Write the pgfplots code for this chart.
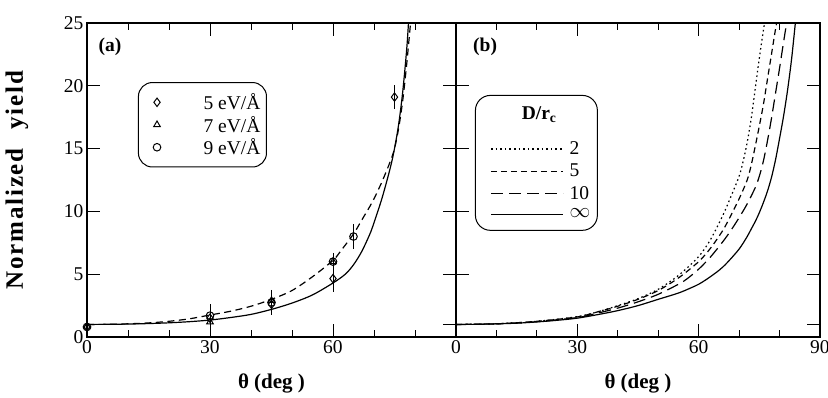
\documentclass[border=0pt]{standalone}
\usepackage{fontspec}
\setmainfont{Liberation Serif}
\newfontfamily\spacedfont[LetterSpace=7]{Liberation Serif}
\usepackage{pgfplots}
\pgfplotsset{compat=1.18}

\newcommand{\lbl}{\fontsize{19.5}{22}\selectfont}

\pgfplotsset{
  panel/.style={
    scale only axis, height=314pt,
    xmin=0, xmax=90, ymin=0, ymax=25,
    xtick={0,30,60,90}, minor x tick num=2,
    ytick={0,5,10,15,20,25},
    extra y ticks={1}, extra y tick labels={},
    extra y tick style={major tick length=13pt},
    tick align=inside,
    major tick length=13pt, minor tick length=7pt,
    every tick/.style={black, line width=0.9pt},
    axis line style={line width=1.1pt},
    tick label style={font=\lbl},
    /pgf/number format/assume math mode=true,
    xlabel={\textbf{θ (deg )}},
    x label style={at={(axis description cs:0.5,0)}, anchor=center,
                   yshift=-46pt, font=\fontsize{21}{24}\selectfont},
    every axis plot/.append style={black, line width=1.2pt},
  },
  % marker-only legend picture: the mark sits 14pt into a 58pt wide cell
  markkey/.style={legend image code/.code={%
    \path (0pt,0pt) (58pt,0pt);
    \draw[mark repeat=2,mark phase=2,##1]
      plot coordinates {(0pt,0pt)(14pt,0pt)(28pt,0pt)};}},
}

\begin{document}
\begin{tikzpicture}
\useasboundingbox (0,0) rectangle (828pt,397pt);

% ---------------- panel (a): measured yields and model curves
\begin{axis}[panel,
  at={(87pt,60pt)}, anchor=south west, width=369pt,
  xticklabels={0,30,60,{}},
  ylabel={\spacedfont\bfseries Normalized\hspace{19pt}yield},
  y label style={at={(axis description cs:-0.19,0.5)}, anchor=center,
                 font=\fontsize{25}{28}\selectfont},
  legend style={at={(0.138,0.812)}, anchor=north west, draw=black,
    line width=1pt, rounded corners=14pt, font=\lbl,
    inner xsep=4pt, inner ysep=11pt, row sep=5pt,
    nodes={inner ysep=0pt}, cells={anchor=east}},
  error bars/error bar style={line width=0.9pt},
  error bars/error mark options={mark size=5pt, line width=0.9pt},
]
\node[font=\bfseries\lbl] at (rel axis cs:0.062,0.924) {(a)};

\addplot[smooth, solid, forget plot] coordinates {
  (0,1.0)(5,1.01)(10,1.03)(15,1.07)(20,1.13)(25,1.22)(30,1.35)(35,1.55)
  (40,1.8)(45,2.2)(50,2.7)(55,3.35)(60,4.3)(63,5.0)(65,5.75)(67,6.8)
  (69,8.2)(70,9.1)(72,11.1)(74,13.5)(75,15.0)(76,16.9)(77,19.5)
  (78,23.0)(78.5,25.5)};
\addplot[smooth, dash pattern=on 7pt off 4.5pt, forget plot] coordinates {
  (0,1.0)(5,1.01)(10,1.05)(15,1.12)(20,1.25)(25,1.45)(30,1.75)(35,2.05)
  (40,2.45)(45,3.0)(50,3.7)(55,4.8)(60,6.1)(62,6.9)(65,8.2)(67,9.3)
  (69,10.4)(70,11.0)(72,12.4)(74,14.0)(75,15.0)(76,16.6)(77,18.8)
  (78,21.8)(79,25.3)};

% 5 eV/A
\addplot[only marks, markkey, mark=diamond, mark size=4.2pt,
  mark options={solid, line width=1pt},
  error bars/.cd, y dir=both, y explicit]
  coordinates {
  (0,0.8) +- (0,0)
  (30,1.5) +- (0,0)
  (45,2.6) +- (0,0)
  (60,4.65) +- (0,0.65)
  (75,19.1) +- (0,0.55)};
\addlegendentry{5 eV/Å}
% 7 eV/A
\addplot[only marks, markkey, mark=triangle, mark size=3.8pt,
  mark options={solid, line width=1pt},
  error bars/.cd, y dir=both, y explicit]
  coordinates {
  (0,0.85) +- (0,0)
  (30,1.2) +- (0,1.0)
  (45,2.9) +- (0,0)
  (60,6.0) +- (0,0)};
\addlegendentry{7 eV/Å}
% 9 eV/A
\addplot[only marks, markkey, mark=o, mark size=3.8pt,
  mark options={solid, line width=1pt},
  error bars/.cd, y dir=both, y explicit]
  coordinates {
  (0,0.8) +- (0,0)
  (30,1.7) +- (0,0.4)
  (45,2.75) +- (0,0.6)
  (60,6.0) +- (0,0.3)
  (65,8.0) +- (0,0.6)};
\addlegendentry{9 eV/Å}
\end{axis}

% ---------------- panel (b): dependence on D/r_c
\begin{axis}[panel,
  at={(456pt,60pt)}, anchor=south west, width=364pt,
  xticklabels={0,30,60,90},
  yticklabels={},
  legend style={at={(0.052,0.771)}, anchor=north west, draw=black,
    line width=1pt, rounded corners=15pt, font=\lbl,
    inner xsep=5pt, inner ysep=11pt, row sep=8pt,
    nodes={inner ysep=0pt}, cells={anchor=west}},
  legend image code/.code={\path (0pt,0pt) (86pt,0pt);
                           \draw[#1] (10pt,0pt) -- (82pt,0pt);},
]
\node[font=\bfseries\lbl] at (rel axis cs:0.08,0.924) {(b)};

\addlegendimage{empty legend}
\addlegendentry{\raisebox{13pt}{\hspace*{-58pt}\textbf{D/r}\textsubscript{\textbf{c}}}}

\addplot[smooth, dash pattern=on 1.6pt off 3pt] coordinates {
  (0,1.0)(10,1.05)(20,1.25)(30,1.62)(35,2.0)(40,2.5)(45,3.05)(50,3.8)
  (55,4.9)(60,6.4)(63,7.8)(66,9.7)(68,11.2)(70,12.8)(71,14.0)(72,15.5)
  (73,17.4)(74,19.8)(75,22.2)(76,24.4)(76.6,25.5)};
\addlegendentry{2}
\addplot[smooth, dash pattern=on 6pt off 4pt] coordinates {
  (0,1.0)(10,1.05)(20,1.25)(30,1.6)(35,2.0)(40,2.45)(45,3.0)(50,3.7)
  (55,4.7)(60,6.0)(63,7.1)(66,8.5)(68,9.7)(70,11.0)(72,12.5)(73,13.7)
  (74,15.2)(75,16.8)(76,18.5)(77,20.5)(78,22.5)(79,24.5)(79.6,25.5)};
\addlegendentry{5}
\addplot[smooth, dash pattern=on 12pt off 6pt] coordinates {
  (0,1.0)(10,1.05)(20,1.22)(30,1.55)(35,1.9)(40,2.3)(45,2.8)(50,3.4)
  (55,4.2)(57,4.6)(60,5.4)(63,6.4)(66,7.6)(68,8.5)(70,9.5)(72,10.6)
  (74,11.9)(75,12.8)(76,14.0)(77,15.6)(78,17.4)(79,19.4)(80,21.4)
  (81,23.5)(82,25.5)};
\addlegendentry{10}
\addplot[smooth, solid] coordinates {
  (0,1.0)(5,1.01)(10,1.05)(15,1.1)(20,1.2)(25,1.33)(30,1.5)(35,1.78)
  (40,2.1)(45,2.5)(50,3.0)(55,3.5)(58,3.9)(60,4.2)(62,4.6)(65,5.3)
  (67,5.9)(70,7.0)(72,8.0)(73,8.6)(74,9.2)(75,9.9)(76,10.7)(77,11.6)
  (78,12.7)(79,14.1)(80,15.8)(81,17.6)(82,19.7)(83,22.2)(84,25.3)};
\addlegendentry{$\infty$}
\end{axis}
\end{tikzpicture}
\end{document}
